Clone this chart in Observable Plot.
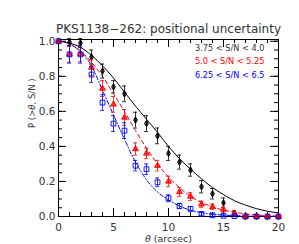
<!DOCTYPE html>
<html><head><meta charset="utf-8">
<script src="https://cdn.jsdelivr.net/npm/d3@7"></script>
<script src="https://cdn.jsdelivr.net/npm/@observablehq/plot@0.6"></script>
<style>body{margin:0;background:#fff} svg{display:block}</style>
</head><body><div id="chart"></div>
<script>
// ---- data ----
const theta = [0,1,2,3,4,5,6,7,8,9,10,11,12,13,14,15,16,17,18,19,20];
const pBlack = [1.0,0.995,0.99,0.91,0.83,0.74,0.70,0.55,0.53,0.46,0.36,0.31,0.265,0.17,0.13,0.078,0.018,0,0,0,0];
const eBlack = [0,0.02,0.025,0.04,0.04,0.035,0.045,0.045,0.045,0.045,0.04,0.04,0.035,0.035,0.03,0.028,0.015,0,0,0,0];
const pRed   = [1.0,0.925,0.928,0.85,0.73,0.64,0.565,0.385,0.36,0.29,0.20,0.14,0.114,0.07,0.055,0.04,0.018,0,0,0,0];
const eRed   = [0,0.045,0.045,0.045,0.045,0.045,0.045,0.035,0.03,0.03,0.03,0.025,0.022,0.018,0.016,0.014,0.01,0,0,0,0];
const pBlue  = [1.0,0.925,0.925,0.81,0.65,0.53,0.49,0.29,0.27,0.195,0.104,0.06,0.044,0.015,0.007,0.004,0.002,0,0,0,0];
const eBlue  = [0,0.05,0.05,0.045,0.045,0.045,0.045,0.03,0.03,0.025,0.02,0.015,0.012,0.008,0.006,0.004,0.003,0,0,0,0];
// model curves (read at integer theta)
const cBlack = [1.0,0.99,0.965,0.92,0.86,0.79,0.71,0.63,0.555,0.48,0.40,0.33,0.27,0.215,0.165,0.125,0.09,0.065,0.045,0.03,0.02];
const cRed   = [1.0,0.985,0.945,0.88,0.80,0.70,0.60,0.49,0.39,0.30,0.225,0.165,0.115,0.08,0.055,0.037,0.024,0.015,0.009,0.005,0.003];
const cBlue  = [1.0,0.985,0.94,0.86,0.72,0.58,0.44,0.31,0.21,0.14,0.095,0.06,0.036,0.022,0.013,0.008,0.005,0.003,0.002,0.001,0.0];
const seriesLabels = ["3.75 < S/N < 4.0","5.0 < S/N < 5.25","6.25 < S/N < 6.5"];
const seriesColors = ["#000000","#ff0000","#0000ff"];
const titleText = "PKS1138\u2212262: positional uncertainty";
const xLabel = "\u03b8 (arcsec)";
const yLabel = "P (>\u03b8, S/N )";
const xTicks = [0,5,10,15,20];
const yTicks = [0,0.2,0.4,0.6,0.8,1.0];
const xMinor = [0,1,2,3,4,5,6,7,8,9,10,11,12,13,14,15,16,17,18,19,20];
const yMinor = [0,0.05,0.1,0.15,0.2,0.25,0.3,0.35,0.4,0.45,0.5,0.55,0.6,0.65,0.7,0.75,0.8,0.85,0.9,0.95,1.0];

// ---- build tables ----
const rows = (vals, errs, k) => theta.map((t,i) => ({theta:t, p:vals[i], err:errs[i], s:k}));
const pts = [rows(pBlack,eBlack,0), rows(pRed,eRed,1), rows(pBlue,eBlue,2)];
const curves = [cBlack,cRed,cBlue].map((c,k) => theta.map((t,i) => ({theta:t, p:c[i], s:k})));
const bars = pts.map(a => a.filter(d => d.err > 0));

const W = 299, H = 244, mL = 58, mR = 21, mT = 39, mB = 28;
const fH = H - mT - mB;
const font = "DejaVu Sans, sans-serif";
const symbols = ["diamond","triangle","square"];
const textFill = "#333";

const marks = [
  Plot.frame({stroke:"#000", strokeWidth:1}),
  // inward ticks, all four sides
  Plot.tickX(xMinor, {x:d=>d, insetTop:fH-4, stroke:"#000"}),
  Plot.tickX(xMinor, {x:d=>d, insetBottom:fH-4, stroke:"#000"}),
  Plot.tickX(xTicks, {x:d=>d, insetTop:fH-8, stroke:"#000"}),
  Plot.tickX(xTicks, {x:d=>d, insetBottom:fH-8, stroke:"#000"}),
  Plot.tickY(yMinor, {y:d=>d, insetRight:W-mL-mR-4, stroke:"#000"}),
  Plot.tickY(yMinor, {y:d=>d, insetLeft:W-mL-mR-4, stroke:"#000"}),
  Plot.tickY(yTicks, {y:d=>d, insetRight:W-mL-mR-8, stroke:"#000"}),
  Plot.tickY(yTicks, {y:d=>d, insetLeft:W-mL-mR-8, stroke:"#000"}),
  // model curves
  Plot.line(curves[0], {x:"theta", y:"p", stroke:seriesColors[0], strokeWidth:1, curve:"monotone-x"}),
  Plot.line(curves[1], {x:"theta", y:"p", stroke:seriesColors[1], strokeWidth:1, strokeDasharray:"4,3", curve:"monotone-x"}),
  Plot.line(curves[2], {x:"theta", y:"p", stroke:seriesColors[2], strokeWidth:1, strokeDasharray:"4,2,1,2", curve:"monotone-x"}),
];
pts.forEach((a,k) => {
  const b = bars[k];
  marks.push(
    Plot.ruleX(b, {x:"theta", y1:d=>d.p-d.err, y2:d=>d.p+d.err, stroke:seriesColors[k], strokeWidth:1, strokeOpacity:0.8}),
    Plot.ruleY(b, {x1:"theta", x2:"theta", y:d=>d.p-d.err, insetLeft:-2, insetRight:-2, stroke:seriesColors[k], strokeOpacity:0.8}),
    Plot.ruleY(b, {x1:"theta", x2:"theta", y:d=>d.p+d.err, insetLeft:-2, insetRight:-2, stroke:seriesColors[k], strokeOpacity:0.8}),
    Plot.dot(a, {x:"theta", y:"p", symbol:symbols[k], r: k===2 ? 2.7 : (k===1 ? 2.2 : 2.0),
      fill: k===2 ? "none" : seriesColors[k], fillOpacity:0.75, stroke:seriesColors[k], strokeWidth:0.9})
  );
});
marks.push(
  Plot.axisX({ticks:xTicks, tickSize:0, tickPadding:7, label:null, fontSize:10.5, fontFamily:font, fill:textFill}),
  Plot.axisY({ticks:yTicks, tickSize:0, tickPadding:3, tickFormat:d3.format(".1f"), label:null, fontSize:10.5, fontFamily:font, fill:textFill}),
  Plot.text([titleText], {text:d=>d, frameAnchor:"top", dy:-10, lineAnchor:"middle", fontSize:12, fontFamily:font, fill:textFill}),
  Plot.text([xLabel], {text:d=>d, frameAnchor:"bottom", dy:22, lineAnchor:"middle", fontSize:9.5, fontFamily:font, fill:textFill}),
  Plot.text([yLabel], {text:d=>d, frameAnchor:"left", dx:-26, rotate:-90, lineAnchor:"middle", fontSize:8.5, fontFamily:font, fill:textFill}),
  ...seriesLabels.map((t,k) => Plot.text([t], {text:d=>d, frameAnchor:"top-right", dx:-14, dy:8.5 + 13.5*k, textAnchor:"end", lineAnchor:"middle", fontSize:8.2, fontFamily:font, fill: k===0 ? "#333" : seriesColors[k]}))
);

const chart = Plot.plot({
  width:W, height:H, marginLeft:mL, marginRight:mR, marginTop:mT, marginBottom:mB,
  style:{fontFamily:font, color:"#333", background:"#fff"},
  x:{domain:[0,20]},
  y:{domain:[0,1.01]},
  marks
});
// italicise theta
d3.select(chart).selectAll("text").each(function(){
  const el = d3.select(this);
  const tsp = el.selectAll("tspan");
  const targets = tsp.empty() ? [this] : tsp.nodes();
  targets.forEach(node => {
    const s = node.textContent;
    if (!s.includes("\u03b8")) return;
    const parts = s.split("\u03b8");
    node.textContent = "";
    parts.forEach((p,i) => {
      if (i > 0) d3.select(node).append("tspan").attr("font-style","italic").text("\u03b8");
      if (p) d3.select(node).append("tspan").text(p);
    });
  });
});
document.getElementById("chart").appendChild(chart);
</script>
</body></html>
